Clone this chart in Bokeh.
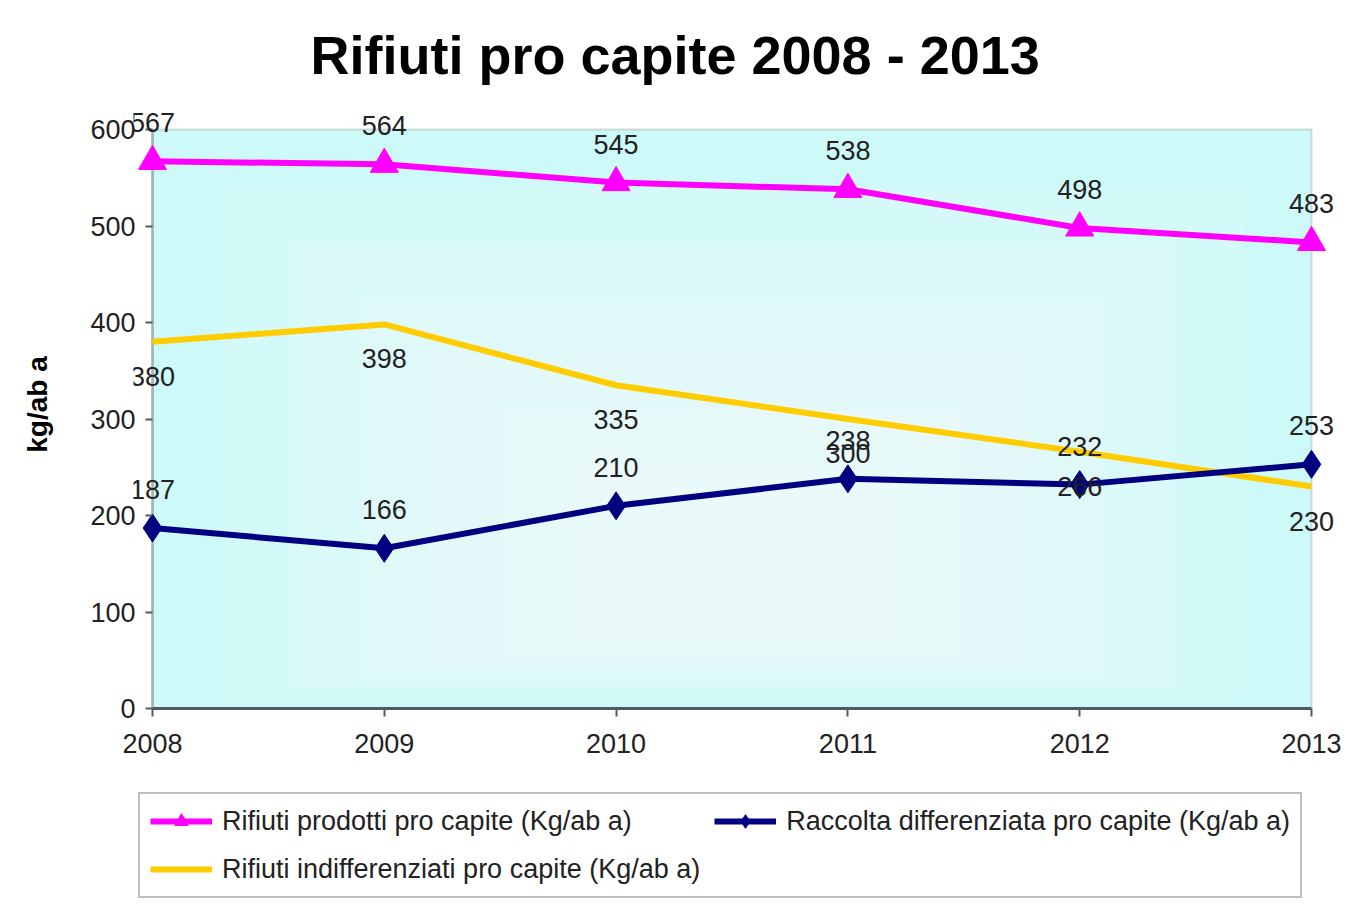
from bokeh.plotting import figure, ColumnDataSource
from bokeh.models import (Range1d, FixedTicker, BoxAnnotation, LabelSet, Legend, LegendItem)
from bokeh.layouts import column
from bokeh.core.properties import value
from bokeh.embed import file_html
from bokeh.resources import INLINE

years = [2008, 2009, 2010, 2011, 2012, 2013]
prodotti = [567, 564, 545, 538, 498, 483]
differenziata = [187, 166, 210, 238, 232, 253]
indifferenziati = [380, 398, 335, 300, 266, 230]
y_ticks = [0, 100, 200, 300, 400, 500, 600]

title_text = "Rifiuti pro capite 2008 - 2013"
y_label = "kg/ab a"
names = ["Rifiuti prodotti pro capite (Kg/ab a)",
         "Raccolta differenziata pro capite (Kg/ab a)",
         "Rifiuti indifferenziati pro capite (Kg/ab a)"]

MAGENTA = "#ff00ff"
NAVY = "#000080"
YELLOW = "#ffcc00"
TEXT = "#222222"
AXIS = "#505a5a"

# ---- layout (pixels) ----
W = 1346
H_MAIN, H_LEG = 768, 141
x_first_px, x_last_px = 152, 1311     # first / last year
y_top_px, y_zero_px = 129, 708        # 600 / 0
frame_left, frame_right, frame_top = 133, 1335, 100

px_per_year = (x_last_px - x_first_px) / (years[-1] - years[0])
px_per_unit = (y_zero_px - y_top_px) / (y_ticks[-1] - y_ticks[0])

p = figure(width=W, height=H_MAIN, output_backend="svg", toolbar_location=None,
           x_range=Range1d(years[0] - (x_first_px - frame_left) / px_per_year,
                           years[-1] + (frame_right - x_last_px) / px_per_year),
           y_range=Range1d(y_ticks[0], y_ticks[-1] + (y_top_px - frame_top) / px_per_unit),
           min_border_left=frame_left, min_border_right=W - frame_right,
           min_border_top=frame_top, min_border_bottom=H_MAIN - y_zero_px)
p.background_fill_color = None
p.border_fill_color = "white"
p.outline_line_color = None
p.grid.visible = False

p.title.text = title_text
p.title.text_font = "Liberation Sans"
p.title.text_font_size = "54px"
p.title.text_font_style = "bold"
p.title.text_color = "black"
p.title.align = "left"
p.title.offset = 177
p.title.standoff = 31

# ---- plot area with soft gradient ----
x0, x1, y0, y1 = years[0], years[-1], y_ticks[0], y_ticks[-1]
p.add_layout(BoxAnnotation(left=x0, right=x1, bottom=y0, top=y1,
                           fill_color="#cdf9f9", fill_alpha=1.0, line_color=None,
                           level="underlay"))
n = 6
for i in range(1, n + 1):
    t = i / (n + 1)
    p.add_layout(BoxAnnotation(left=x0 + t * (x1 - x0) * 0.42, right=x1 - t * (x1 - x0) * 0.42,
                               bottom=y0 + t * (y1 - y0) * 0.12, top=y1 - t * (y1 - y0) * 0.68,
                               fill_color="white", fill_alpha=0.14, line_color=None,
                               level="underlay"))
p.add_layout(BoxAnnotation(left=x0, right=x1, bottom=y0, top=y1,
                           fill_color=None, line_color="#7f8c8c", line_width=2,
                           level="underlay"))
# darker left edge (value axis line at the first year)
p.add_layout(BoxAnnotation(left=x0, right=x0, bottom=y0, top=y1,
                           fill_color=None, line_color=AXIS, line_width=3,
                           level="underlay"))

# ---- axes ----
xa = p.xaxis[0]
xa.ticker = FixedTicker(ticks=years)
xa.bounds = (years[0], years[-1])
xa.minor_tick_line_color = None
xa.major_tick_out = 8
xa.major_tick_in = 0
xa.major_label_standoff = 17
xa.major_label_text_font = "Liberation Sans"
xa.major_label_text_font_size = "27px"
xa.major_label_text_color = TEXT
xa.axis_line_color = AXIS
xa.axis_line_width = 3
xa.major_tick_line_color = AXIS
xa.major_tick_line_width = 2

ya = p.yaxis[0]
ya.ticker = FixedTicker(ticks=y_ticks)
ya.bounds = (y_ticks[0], y_ticks[-1])
ya.minor_tick_line_color = None
ya.axis_line_color = None
ya.major_tick_out = -(x_first_px - frame_left - 7)
ya.major_tick_in = x_first_px - frame_left
ya.major_label_standoff = -2
ya.major_label_text_font = "Liberation Sans"
ya.major_label_text_font_size = "27px"
ya.major_label_text_color = TEXT
ya.major_tick_line_color = AXIS
ya.major_tick_line_width = 2
ya.axis_label = y_label
ya.axis_label_text_font = "Liberation Sans"
ya.axis_label_text_font_size = "28px"
ya.axis_label_text_font_style = "bold"
ya.axis_label_text_color = "black"
ya.axis_label_standoff = 34

# ---- series ----
src = ColumnDataSource(dict(x=years, prod=prodotti, diff=differenziata, indiff=indifferenziati,
                            prod_t=[str(v) for v in prodotti],
                            diff_t=[str(v) for v in differenziata],
                            indiff_t=[str(v) for v in indifferenziati]))

def draw(fig):
    li = fig.line("x", "indiff", source=src, line_color=YELLOW, line_width=6)
    ld = fig.line("x", "diff", source=src, line_color=NAVY, line_width=6)
    md = fig.scatter("x", "diff", source=src, marker="diamond", size=28,
                     fill_color=NAVY, line_color=NAVY)
    lp = fig.line("x", "prod", source=src, line_color=MAGENTA, line_width=6)
    mp = fig.scatter("x", "prod", source=src, marker="triangle", size=28,
                     fill_color=MAGENTA, line_color=MAGENTA)
    return li, ld, md, lp, mp

draw(p)

def labels(col, tcol, off, baseline):
    return LabelSet(x="x", y=col, text=tcol, source=src, y_offset=off,
                    text_align="center", text_baseline=baseline,
                    text_font=value("Liberation Sans"), text_font_size="27px",
                    text_color=TEXT)

p.add_layout(labels("prod", "prod_t", 29, "bottom"))
p.add_layout(labels("diff", "diff_t", 29, "bottom"))
p.add_layout(labels("indiff", "indiff_t", -25, "top"))

# ---- legend strip below the chart ----
q = figure(width=W, height=H_LEG, output_backend="svg", toolbar_location=None,
           x_range=Range1d(0, 1), y_range=Range1d(0, 1),
           x_axis_location=None, y_axis_location=None, min_border=0)
q.outline_line_color = None
q.grid.visible = False
q.background_fill_color = "white"
q.border_fill_color = "white"
li, ld, md, lp, mp = draw(q)   # data lies outside this strip's view; used for the legend

legend = Legend(items=[
    LegendItem(label=names[0], renderers=[lp, mp]),
    LegendItem(label=names[2], renderers=[li]),
    LegendItem(label=names[1], renderers=[ld, md]),
], ncols=2)
legend.location = (138 - frame_left, 11)
legend.label_text_font = "Liberation Sans"
legend.label_text_font_size = "27px"
legend.label_text_color = TEXT
legend.glyph_width = 62
legend.glyph_height = 34
legend.label_height = 34
legend.label_standoff = 10
legend.spacing = 14
legend.padding = 10
legend.margin = 0
legend.border_line_color = "#808080"
legend.border_line_width = 2
legend.background_fill_color = "white"
legend.background_fill_alpha = 1.0
q.add_layout(legend)

layout = column(p, q, spacing=0)
open("out.html", "w").write(file_html(layout, INLINE))
